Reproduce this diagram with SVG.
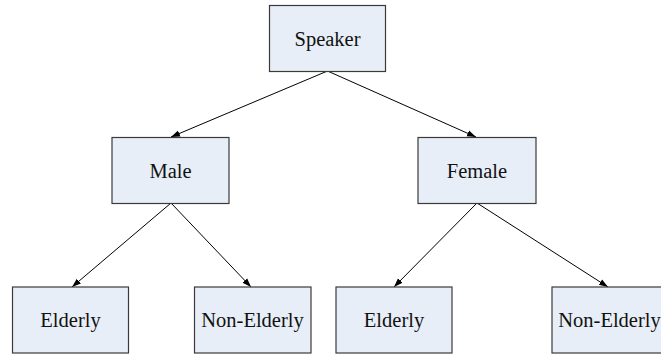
<svg xmlns="http://www.w3.org/2000/svg" width="661" height="356" viewBox="0 0 661 356">
<style>
.box{fill:#e8eef8;stroke:#3a3a3a;stroke-width:1.2}
.lbl{font-family:"Liberation Serif","Times New Roman",serif;font-size:20.5px;fill:#111;text-anchor:middle}
.edge{stroke:#000;stroke-width:1;fill:none;marker-end:url(#arr)}
</style>
<defs>
<marker id="arr" markerUnits="userSpaceOnUse" markerWidth="10" markerHeight="8" refX="9" refY="4" orient="auto">
<path d="M0,0.8 L9,4 L0,7.2 Z" fill="#000"/>
</marker>
</defs>
<rect width="661" height="356" fill="#fff"/>
<g id="connectors">
<line class="edge" x1="327.5" y1="71" x2="171" y2="137"/>
<line class="edge" x1="327.5" y1="71" x2="476" y2="137"/>
<line class="edge" x1="171" y1="203" x2="72" y2="287"/>
<line class="edge" x1="171" y1="203" x2="251" y2="287"/>
<line class="edge" x1="477" y1="203" x2="394" y2="287"/>
<line class="edge" x1="477" y1="203" x2="608" y2="287"/>
</g>
<g id="speaker"><rect class="box" x="269.5" y="5.5" width="116" height="66"/><text class="lbl" x="327.5" y="45.5">Speaker</text></g>
<g id="male"><rect class="box" x="112" y="137.5" width="117" height="66"/><text class="lbl" x="170.5" y="177.5">Male</text></g>
<g id="female"><rect class="box" x="418" y="137.5" width="118" height="66"/><text class="lbl" x="477" y="177.5">Female</text></g>
<g id="male-elderly"><rect class="box" x="12.5" y="287" width="116" height="66"/><text class="lbl" x="70.5" y="327">Elderly</text></g>
<g id="male-non-elderly"><rect class="box" x="194.5" y="287" width="116.5" height="66"/><text class="lbl" x="252.5" y="327">Non-Elderly</text></g>
<g id="female-elderly"><rect class="box" x="336" y="287" width="116" height="66"/><text class="lbl" x="394" y="327">Elderly</text></g>
<g id="female-non-elderly"><rect class="box" x="552" y="287" width="117" height="66"/><text class="lbl" x="609.5" y="327">Non-Elderly</text></g>
</svg>
